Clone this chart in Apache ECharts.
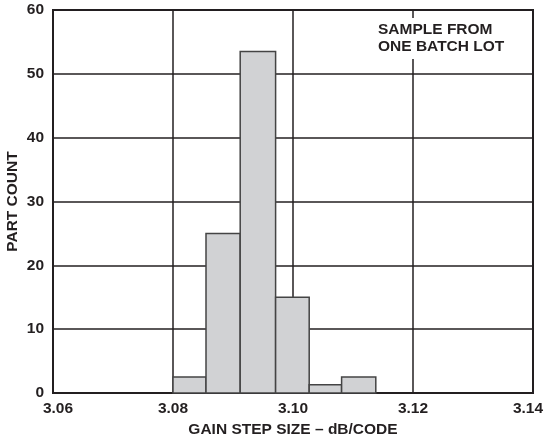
<!DOCTYPE html>
<html>
<head>
<meta charset="utf-8">
<script src="https://cdn.jsdelivr.net/npm/echarts@6/dist/echarts.min.js"></script>
<style>
  html, body { margin: 0; padding: 0; background: #fff; }
  #chart { width: 546px; height: 439px; }
</style>
</head>
<body>
<div id="chart"></div>
<script>
// Histogram of gain step size, one batch lot.
const binStart = [3.0800, 3.0855, 3.0912, 3.0971, 3.1027, 3.1081];
const binEnd   = [3.0855, 3.0912, 3.0971, 3.1027, 3.1081, 3.1138];
const counts   = [2.5, 25, 53.5, 15, 1.3, 2.5];
const xTicks = [3.06, 3.08, 3.10, 3.12, 3.14];
const yTicks = [0, 10, 20, 30, 40, 50, 60];

const FONT = '"Liberation Sans", Arial, Helvetica, sans-serif';
const INK = '#231f20';

const chart = echarts.init(document.getElementById('chart'), null, { renderer: 'canvas' });

const histData = counts.map((c, i) => [binStart[i], binEnd[i], c]);
const labelStyle = { fontFamily: FONT, fontWeight: 'bold', fontSize: 15.5, color: INK };

chart.setOption({
  animation: false,
  grid: {
    left: 53, right: 13, top: 10, bottom: 46,
    outerBoundsMode: 'none', containLabel: false,
    show: true, borderColor: INK, borderWidth: 2, backgroundColor: 'transparent',
  },
  xAxis: {
    type: 'value',
    min: xTicks[0], max: xTicks[xTicks.length - 1], interval: 0.02,
    name: 'GAIN STEP SIZE – dB/CODE',
    nameLocation: 'middle', nameGap: 29,
    nameTextStyle: labelStyle,
    axisLine: { show: true, lineStyle: { color: INK, width: 2 } },
    axisTick: { show: false },
    axisLabel: Object.assign({}, labelStyle, {
      margin: 8,
      // end labels sit a little inward, as in the original
      formatter: (v) => {
        const s = v.toFixed(2);
        if (Math.abs(v - xTicks[0]) < 1e-9) return '{first|' + s + '}';
        if (Math.abs(v - xTicks[xTicks.length - 1]) < 1e-9) return '{last|' + s + '}';
        return s;
      },
      rich: {
        first: Object.assign({}, labelStyle, { padding: [0, 0, 0, 10] }),
        last: Object.assign({}, labelStyle, { padding: [0, 10, 0, 0] }),
      },
    }),
    splitLine: { show: true, lineStyle: { color: INK, width: 1.5 } },
  },
  yAxis: {
    type: 'value',
    min: yTicks[0], max: yTicks[yTicks.length - 1], interval: 10,
    name: 'PART COUNT',
    nameLocation: 'middle', nameGap: 32, nameRotate: 90,
    nameMoveOverlap: false,
    nameTextStyle: labelStyle,
    axisLine: { show: true, lineStyle: { color: INK, width: 2 } },
    axisTick: { show: false },
    axisLabel: Object.assign({}, labelStyle, { margin: 9 }),
    splitLine: { show: true, lineStyle: { color: INK, width: 1.5 } },
  },
  graphic: [{
    type: 'text',
    left: 374, top: 18, z: 100,
    style: {
      text: 'SAMPLE FROM\nONE BATCH LOT',
      font: 'bold 15.5px ' + FONT,
      lineHeight: 17,
      fill: INK,
      backgroundColor: '#fff',
      padding: [3, 4, 4, 4],
    },
  }],
  series: [{
    type: 'custom',
    data: histData,
    encode: { x: [0, 1], y: 2 },
    renderItem: (params, api) => {
      const p0 = api.coord([api.value(0), api.value(2)]);
      const p1 = api.coord([api.value(1), 0]);
      return {
        type: 'rect',
        shape: { x: p0[0], y: p0[1], width: p1[0] - p0[0], height: p1[1] - p0[1] },
        style: { fill: '#d1d2d4', stroke: '#444', lineWidth: 1.5 },
      };
    },
  }],
});
</script>
</body>
</html>
